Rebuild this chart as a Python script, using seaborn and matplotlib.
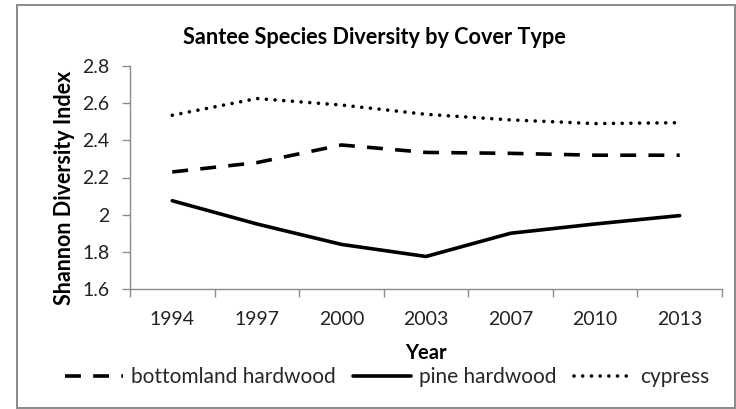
import matplotlib
matplotlib.use("Agg")
import matplotlib.pyplot as plt
from matplotlib.patches import Rectangle
from matplotlib.lines import Line2D
import seaborn as sns
import pandas as pd

# Survey years and Shannon diversity by cover type
years = ["1994", "1997", "2000", "2003", "2007", "2010", "2013"]
bottomland_hardwood = [2.23, 2.28, 2.375, 2.335, 2.33, 2.32, 2.32]
pine_hardwood = [2.075, 1.95, 1.84, 1.775, 1.90, 1.95, 1.995]
cypress = [2.535, 2.625, 2.59, 2.54, 2.51, 2.49, 2.495]

series_names = ["bottomland hardwood", "pine hardwood", "cypress"]
series_values = [bottomland_hardwood, pine_hardwood, cypress]

y_ticks = [1.6, 1.8, 2.0, 2.2, 2.4, 2.6, 2.8]
y_tick_labels = ["1.6", "1.8", "2", "2.2", "2.4", "2.6", "2.8"]

rows = []
for name, vals in zip(series_names, series_values):
    for i, (yr, v) in enumerate(zip(years, vals)):
        rows.append({"pos": i, "Year": yr, "cover": name, "value": v})
df = pd.DataFrame(rows)

sns.set_theme(style="white")
plt.rcParams["font.family"] = ["Lato", "DejaVu Sans"]

fig = plt.figure(figsize=(7.36, 4.09), dpi=100)
ax = fig.add_axes([130 / 736, 1 - 289 / 409, 592 / 736, 223 / 409])

lw = 2.6
styles = {
    "bottomland hardwood": dict(linestyle=(0, (4.4, 3.4)), dash_capstyle="butt"),
    "pine hardwood": dict(linestyle="-"),
    "cypress": dict(linestyle=(0, (0.01, 2.4)), dash_capstyle="round"),
}

for name in series_names:
    sub = df[df["cover"] == name]
    sns.lineplot(data=sub, x="pos", y="value", ax=ax, color="black",
                 linewidth=lw, legend=False, **styles[name])

ax.set_xlim(-0.5, len(years) - 0.5)
ax.set_ylim(1.6, 2.8)
ax.set_yticks(y_ticks)
ax.set_yticklabels(y_tick_labels)
ax.set_xticks(range(len(years)))
ax.set_xticklabels(years)
ax.set_xticks([i - 0.5 for i in range(len(years) + 1)], minor=True)

axis_gray = "#8c8c8c"
for side in ["top", "right"]:
    ax.spines[side].set_visible(False)
for side in ["left", "bottom"]:
    ax.spines[side].set_visible(True)
    ax.spines[side].set_color(axis_gray)
    ax.spines[side].set_linewidth(1.0)

ax.tick_params(axis="y", which="major", left=True, length=5.8, width=1.0,
               color=axis_gray, labelsize=14, labelcolor="#222222", pad=9)
ax.tick_params(axis="x", which="major", bottom=True, length=0, pad=16,
               labelsize=14, labelcolor="#222222")
ax.tick_params(axis="x", which="minor", bottom=True, length=5.5, width=1.0,
               color=axis_gray)
ax.grid(False)

ax.set_xlabel("Year", fontsize=14.5, fontweight="bold", color="black")
ax.xaxis.set_label_coords(0.5, -0.24)
ax.set_ylabel("Shannon Diversity Index", fontsize=15.5, fontweight="bold", color="black")
ax.yaxis.set_label_coords(-(130 - 75) / 592, (289 - 188) / 223)

fig.text(374 / 736, 1 - 38 / 409, "Santee Species Diversity by Cover Type",
         ha="center", va="center", fontsize=15.6, fontweight="bold", color="black")

handles = [Line2D([], [], color="black", linewidth=lw, **styles[n]) for n in series_names]
fig.legend(handles, series_names, loc="center", bbox_to_anchor=(387 / 736, 1 - 377 / 409),
           ncol=3, frameon=False, fontsize=15, handlelength=2.8,
           handletextpad=0.4, columnspacing=0.8, borderaxespad=0)

# Chart area frame
fig.patches.append(Rectangle((17 / 736, 1.5 / 409), (735 - 17) / 736, (404.5 - 1.5) / 409,
                             transform=fig.transFigure, fill=False,
                             edgecolor="#8a8a8a", linewidth=1.4))

fig.savefig("out.png", dpi=100, facecolor="white")
